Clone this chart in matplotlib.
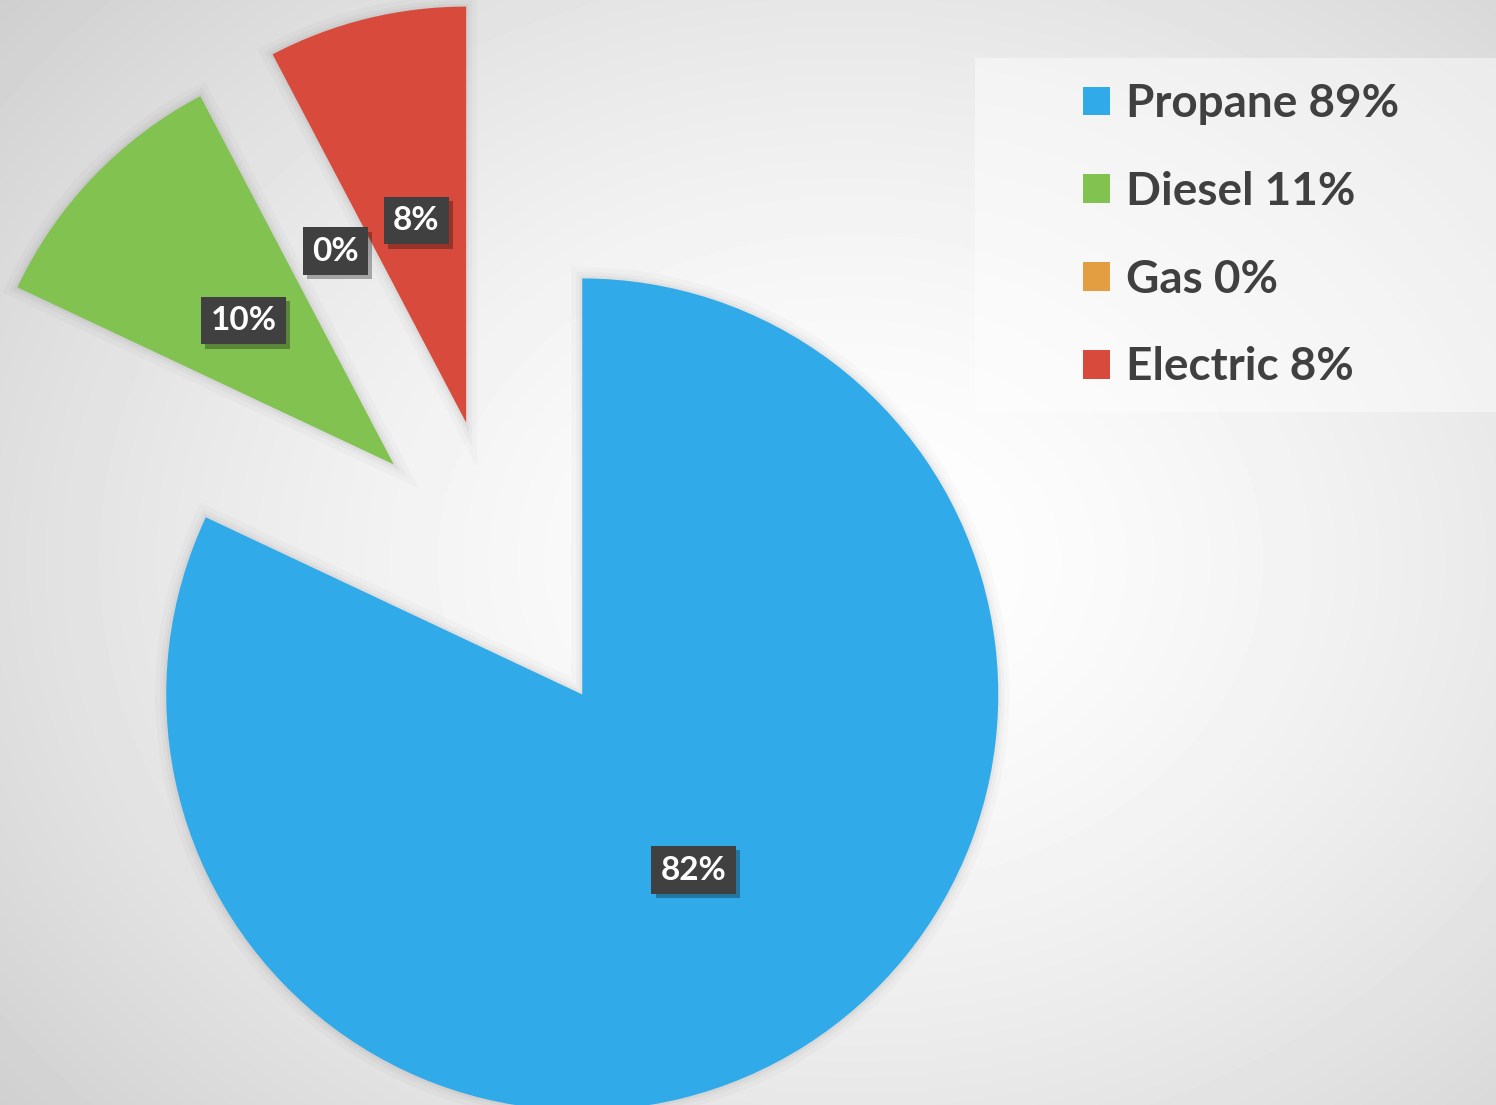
import numpy as np
import matplotlib
matplotlib.use("Agg")
import matplotlib.pyplot as plt
import matplotlib.patheffects as pe
from matplotlib.patches import Rectangle

# fuel share data
fuels = ["Propane", "Diesel", "Gas", "Electric"]
shares = [82.0, 10.3, 0.0, 7.7]
legend_labels = ["Propane 89%", "Diesel 11%", "Gas 0%", "Electric 8%"]
colors = ["#31aae9", "#82c250", "#e39e41", "#d84b3c"]

plt.rcParams['font.family'] = ['Lato', 'DejaVu Sans']

W, H = 1496, 1105
fig = plt.figure(figsize=(W / 100, H / 100), dpi=100)

# radial background gradient
bg = fig.add_axes([0, 0, 1, 1])
yy, xx = np.mgrid[0:H, 0:W]
d = np.hypot((xx - 850) / 950.0, (yy - 560) / 750.0)
shade = np.clip(1.0 - 0.15 * d ** 1.5, 0, 1)
bg.imshow(shade, cmap="gray", vmin=0, vmax=1, aspect="auto", interpolation="bilinear")
bg.axis("off")

ax = fig.add_axes([0, 0, 1, 1])
ax.patch.set_alpha(0)
wedges, texts, autotexts = ax.pie(
    shares, colors=colors, startangle=90, counterclock=False,
    explode=[0.36] * 4, radius=1.0, center=(0, 0),
    autopct="%1.0f%%", pctdistance=0.5,
    wedgeprops=dict(linewidth=0),
    textprops=dict(color="white", fontsize=24, fontweight="bold"),
)
# soft shadow around slices (skip empty ones)
for w, v in zip(wedges, shares):
    if v <= 0:
        continue
    w.set_path_effects([
        pe.Stroke(linewidth=16, foreground="#000000", alpha=0.018),
        pe.Stroke(linewidth=9, foreground="#000000", alpha=0.025),
        pe.Stroke(linewidth=4, foreground="#000000", alpha=0.035),
        pe.Normal(),
    ])
for t in autotexts:
    t.set_bbox(dict(boxstyle="square,pad=0.28", facecolor="#404040", edgecolor="none"))
    t.get_bbox_patch().set_path_effects([
        pe.SimplePatchShadow(offset=(3, -3), shadow_rgbFace="#000000", alpha=0.3),
        pe.Normal(),
    ])

r_px = 416.0
cx, cy = 502.0, 568.0
ax.set_xlim(-cx / r_px, (W - cx) / r_px)
ax.set_ylim(-(H - cy) / r_px, cy / r_px)
ax.set_aspect("auto")
ax.axis("off")

# legend panel
fig.patches.append(Rectangle((975 / W, 1 - 412 / H), (W - 975) / W, (412 - 58) / H,
                             transform=fig.transFigure, facecolor="white",
                             alpha=0.45, edgecolor="none", zorder=1))
leg = fig.legend(wedges, legend_labels, loc="upper left",
                 bbox_to_anchor=(1083 / W, 1 - 83 / H),
                 frameon=False, fontsize=33, handlelength=0.58, handleheight=0.58,
                 handletextpad=0.35, labelspacing=1.0, borderpad=0,
                 borderaxespad=0, labelcolor="#404040")
for t in leg.get_texts():
    t.set_fontweight("bold")
for h in leg.legend_handles:
    h.set_path_effects([])

fig.savefig("out.png", dpi=100)
